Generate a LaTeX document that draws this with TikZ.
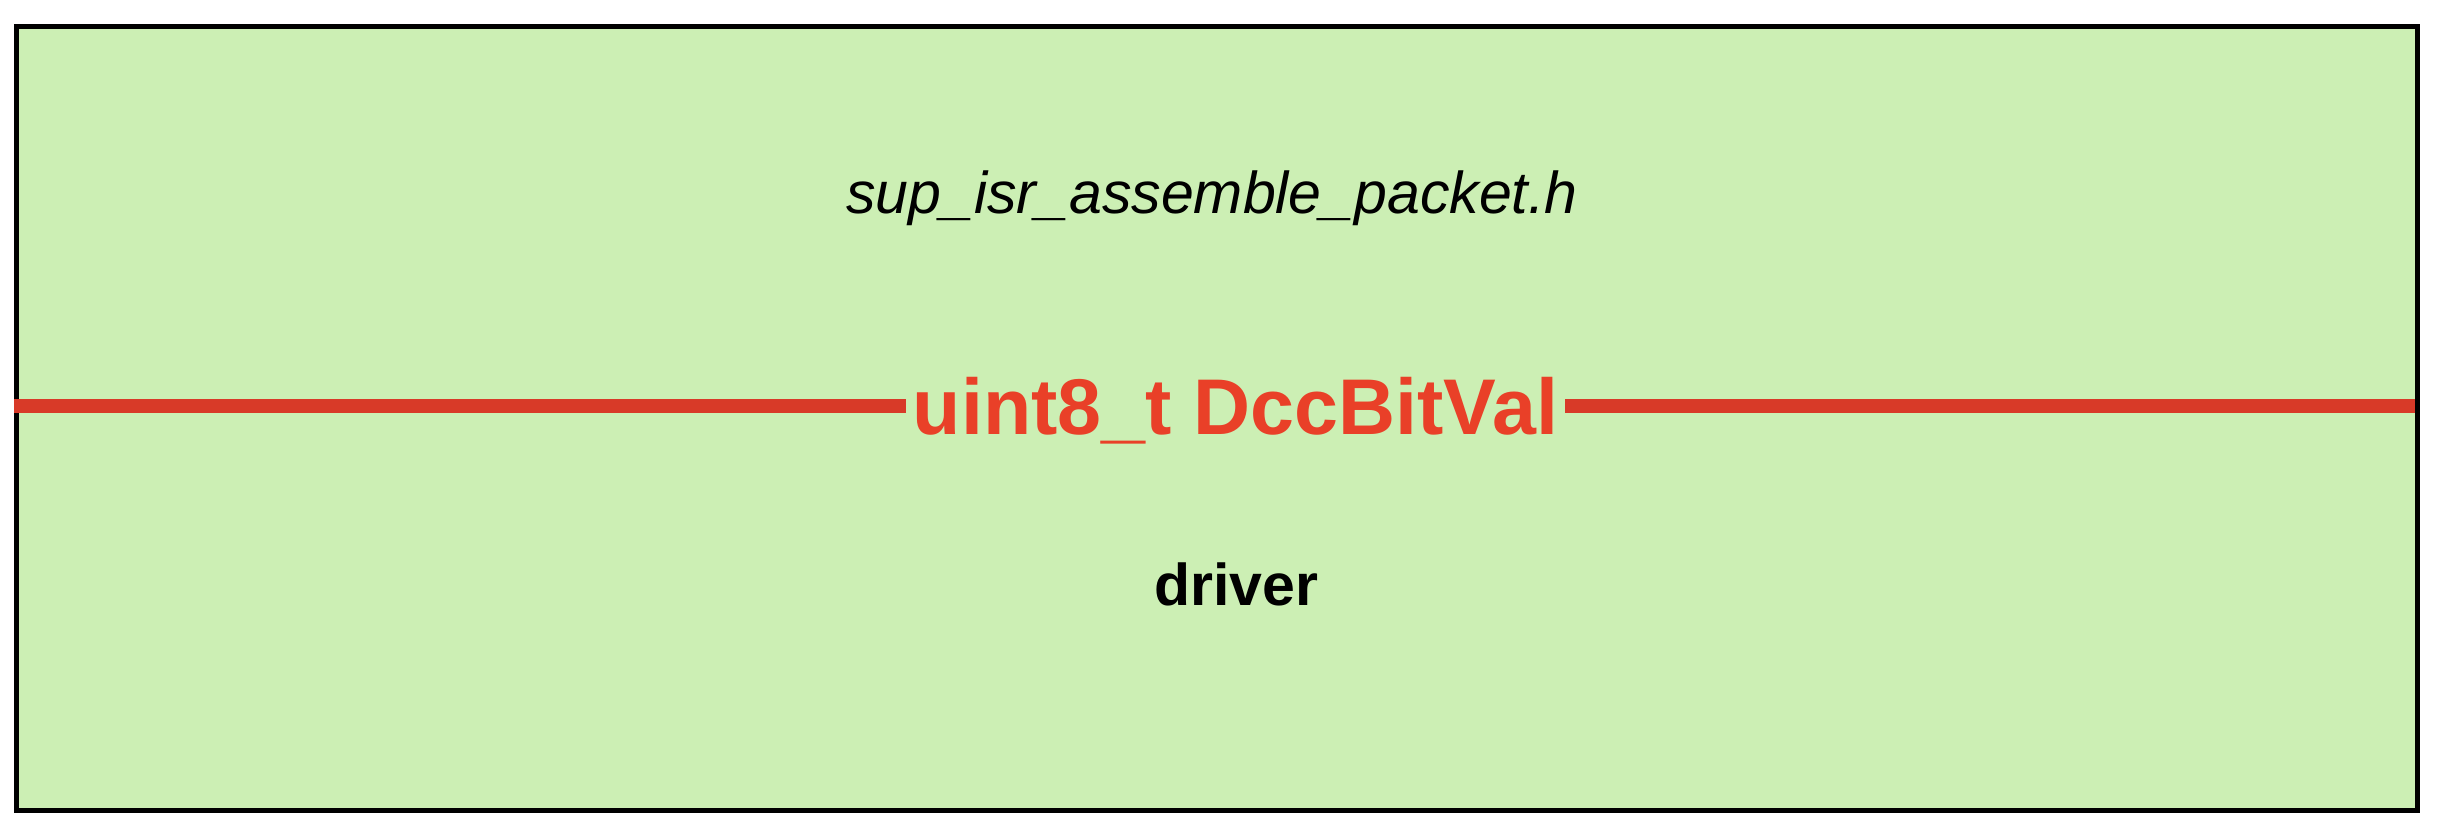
\documentclass[tikz,border=0pt]{standalone}
\usepackage{fontspec}
\setmainfont{Liberation Sans}
\definecolor{boxgreen}{RGB}{204,239,180}
\definecolor{labelred}{RGB}{233,64,40}
\definecolor{linered}{RGB}{216,58,40}
\tikzset{
  framebox/.style={draw=black, line width=5pt, fill=boxgreen, inner sep=0pt, anchor=north west},
  redline/.style={draw=linered, line width=14pt},
  redlabel/.style={fill=boxgreen, text=labelred, inner xsep=7pt, inner ysep=4pt, anchor=base,
    font=\fontsize{79}{90}\selectfont\bfseries},
  filelabel/.style={anchor=base, inner sep=0pt, font=\fontsize{59}{70}\selectfont\itshape},
  modlabel/.style={anchor=base, inner sep=0pt, font=\fontsize{59}{70}\selectfont\bfseries}
}
\begin{document}
\begin{tikzpicture}[x=1pt,y=-1pt]
\useasboundingbox (0,0) rectangle (2439,835);
\node[framebox, minimum width=2401pt, minimum height=784pt] (frame) at (14,23.5) {};
\coordinate (lineL) at (14,406);
\coordinate (lineR) at (2415,406);
\draw[redline] (lineL) -- (lineR);
\node[redlabel] (var) at (1235.5,434) {uint8\_t DccBitVal};
\node[filelabel] (file) at (1212,213) {sup\_isr\_assemble\_packet.h};
\node[modlabel] (mod) at (1236,605) {driver};
\end{tikzpicture}
\end{document}
